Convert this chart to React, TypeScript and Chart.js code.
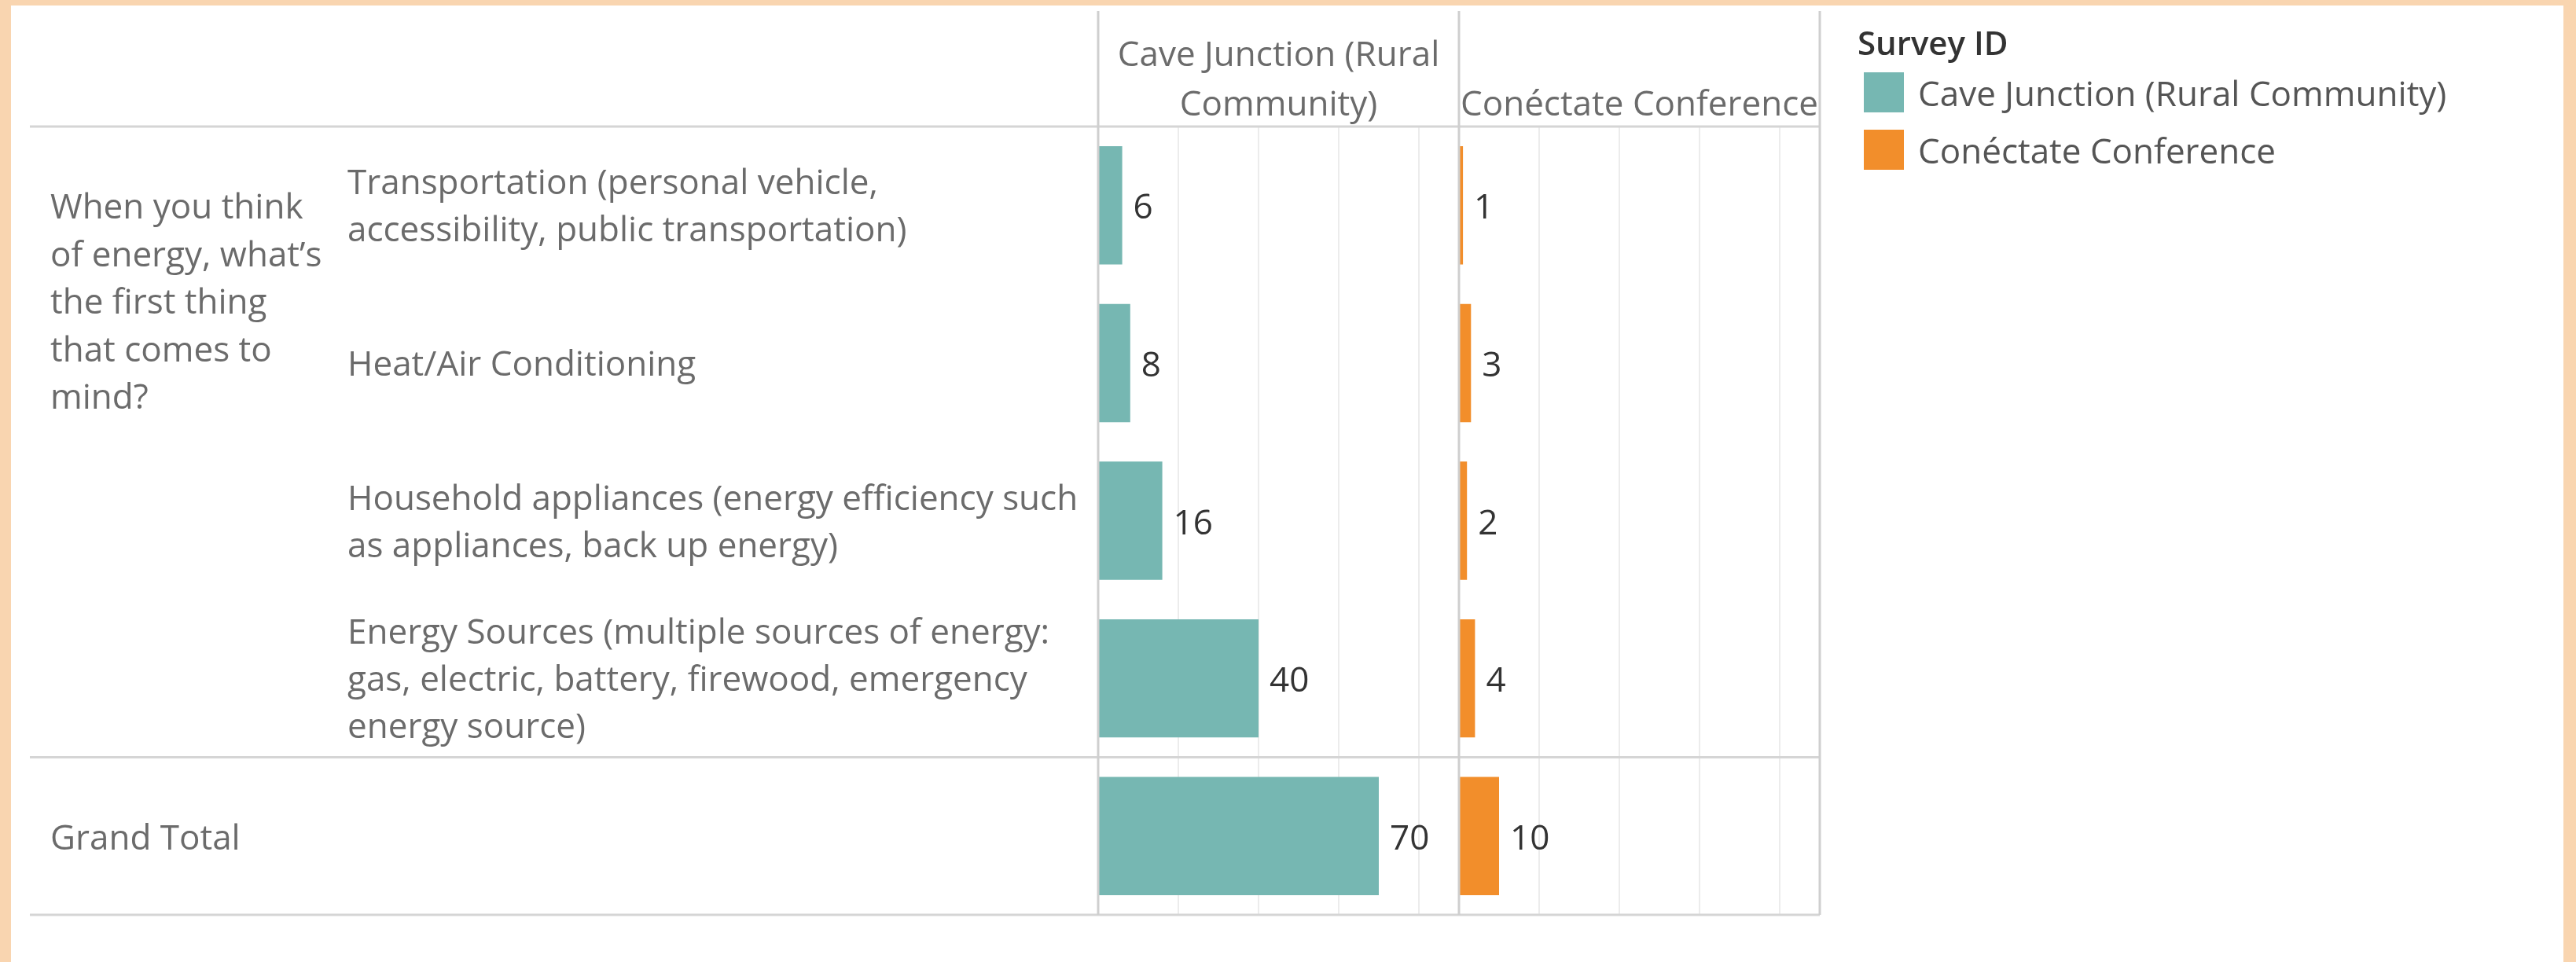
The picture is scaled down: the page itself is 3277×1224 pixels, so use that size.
import React, { useEffect, useRef } from "react";
import { Chart, registerables } from "chart.js";

Chart.register(...registerables);

// ---------- data ----------
const questionLines = ["When you think", "of energy, what’s", "the first thing", "that comes to", "mind?"];
const answerLines = [
  ["Transportation (personal vehicle,", "accessibility, public transportation)"],
  ["Heat/Air Conditioning"],
  ["Household appliances (energy efficiency such", "as appliances, back up energy)"],
  ["Energy Sources (multiple sources of energy:", "gas, electric, battery, firewood, emergency", "energy source)"],
];
const totalLabel = "Grand Total";
const seriesNames = ["Cave Junction (Rural Community)", "Conéctate Conference"];
const paneHeaderLines = [["Cave Junction (Rural", "Community)"], ["Conéctate Conference"]];
const legendTitle = "Survey ID";
const caveJunctionValues = [6, 8, 16, 40];
const conectateValues = [1, 3, 2, 4];
const caveJunctionTotal = 70;
const conectateTotal = 10;
const axisMax = 90;
const gridStep = 20;
const seriesColors = ["#76B7B2", "#F28E2B"];

// ---------- styling ----------
const FONT = "'Open Sans', sans-serif";
const LABEL_COLOR = "#6b6b6b";
const VALUE_COLOR = "#333333";

function drawText(ctx: CanvasRenderingContext2D, s: string, x: number, y: number, size: number, color: string, align: CanvasTextAlign = "left", weight = "normal") {
  ctx.font = `${weight} ${size}px ${FONT}`;
  ctx.fillStyle = color;
  ctx.textAlign = align;
  ctx.textBaseline = "alphabetic";
  ctx.fillText(s, x, y);
}

function drawLine(ctx: CanvasRenderingContext2D, x1: number, y1: number, x2: number, y2: number) {
  ctx.beginPath();
  ctx.moveTo(x1, y1);
  ctx.lineTo(x2, y2);
  ctx.stroke();
}

const decorPlugin = {
  id: "tableDecor",
  beforeDatasetsDraw(chart: any) {
    const { ctx, chartArea: a, scales } = chart;
    const y = scales.y;
    ctx.save();
    ctx.strokeStyle = "#d5d5d5";
    ctx.lineWidth = 3;
    const n = answerLines.length;
    const sepY = (y.getPixelForValue(n - 1) + y.getPixelForValue(n)) / 2;
    for (const yy of [a.top, sepY, a.bottom]) drawLine(ctx, 38, yy, a.right, yy);
    ctx.restore();
  },
  afterDatasetsDraw(chart: any) {
    const { ctx, chartArea: a, scales } = chart;
    const y = scales.y;
    const panes = [scales.x1, scales.x2];
    ctx.save();

    // pane borders
    ctx.strokeStyle = "#cfcfcf";
    ctx.lineWidth = 3;
    for (const xx of [panes[0].left, panes[1].left, panes[1].right]) drawLine(ctx, xx, 14, xx, a.bottom);

    // pane headers (bottom aligned above the chart area)
    panes.forEach((sc: any, p: number) => {
      const lines = paneHeaderLines[p];
      const cx = (sc.left + sc.right) / 2;
      lines.forEach((ln, j) => {
        const by = a.top - 14 - (lines.length - 1 - j) * 63;
        drawText(ctx, ln, cx, by, 44, LABEL_COLOR, "center");
      });
    });

    // row labels
    const innerX = 442;
    answerLines.forEach((lines, i) => {
      const cy = y.getPixelForValue(i);
      lines.forEach((ln, j) => {
        const by = cy + 16 + (j - (lines.length - 1) / 2) * 60;
        drawText(ctx, ln, innerX, by, 44, LABEL_COLOR);
      });
    });
    questionLines.forEach((ln, j) => {
      drawText(ctx, ln, 64, a.top + 117 + j * 60.5, 44, LABEL_COLOR);
    });
    drawText(ctx, totalLabel, 64, y.getPixelForValue(answerLines.length) + 17, 44, LABEL_COLOR);

    // value labels
    chart.data.datasets.forEach((ds: any, d: number) => {
      const meta = chart.getDatasetMeta(d);
      meta.data.forEach((el: any, i: number) => {
        drawText(ctx, String(ds.data[i]), el.x + 14, el.y + 17, 44, VALUE_COLOR);
      });
    });

    // legend
    const lx = panes[1].right + 48;
    drawText(ctx, legendTitle, lx, 70, 42, "#333333", "left", "600");
    chart.data.datasets.forEach((ds: any, d: number) => {
      const top = 92 + d * 73;
      ctx.fillStyle = ds.backgroundColor;
      ctx.fillRect(lx + 8, top, 51, 51);
      drawText(ctx, ds.label, lx + 77, top + 43, 44, "#555555");
    });

    ctx.restore();
  },
};

export default function App() {
  const ref = useRef<HTMLCanvasElement>(null);

  useEffect(() => {
    const canvas = ref.current;
    if (!canvas) return;
    Chart.defaults.font.family = FONT;
    const rowLabels = [...answerLines.map((l) => l.join(" ")), totalLabel];
    const paneScale = {
      type: "linear" as const,
      position: "bottom" as const,
      stack: "panes",
      stackWeight: 1,
      min: 0,
      max: axisMax,
      ticks: { display: false, stepSize: gridStep, includeBounds: false },
      grid: { color: "#ececec", lineWidth: 2, drawTicks: false },
      border: { display: false },
    };
    const chart = new Chart(canvas, {
      type: "bar",
      data: {
        labels: rowLabels,
        datasets: [
          {
            label: seriesNames[0],
            data: [...caveJunctionValues, caveJunctionTotal],
            xAxisID: "x1",
            backgroundColor: seriesColors[0],
            borderWidth: 0,
            grouped: false,
            categoryPercentage: 1,
            barPercentage: 0.75,
          },
          {
            label: seriesNames[1],
            data: [...conectateValues, conectateTotal],
            xAxisID: "x2",
            backgroundColor: seriesColors[1],
            borderWidth: 0,
            grouped: false,
            categoryPercentage: 1,
            barPercentage: 0.75,
          },
        ],
      },
      options: {
        indexAxis: "y",
        responsive: false,
        animation: false,
        devicePixelRatio: 1,
        layout: { padding: { left: 1397, right: 3277 - 2315, top: 161, bottom: 1224 - 1164 } },
        plugins: { legend: { display: false }, tooltip: { enabled: false } },
        scales: {
          y: { type: "category", display: false, offset: true },
          x1: paneScale,
          x2: { ...paneScale },
        },
      } as any,
      plugins: [decorPlugin],
    });
    return () => chart.destroy();
  }, []);

  return (
    <div style={{ position: "fixed", left: 0, top: 0, width: 3277, height: 1224, background: "#F9D5B0", overflow: "hidden" }}>
      <div style={{ position: "absolute", left: 14, top: 7, width: 3277 - 14 - 16, height: 1224 - 7, background: "#ffffff" }} />
      <canvas ref={ref} width={3277} height={1224} style={{ position: "absolute", left: 0, top: 0, width: 3277, height: 1224 }} />
    </div>
  );
}
